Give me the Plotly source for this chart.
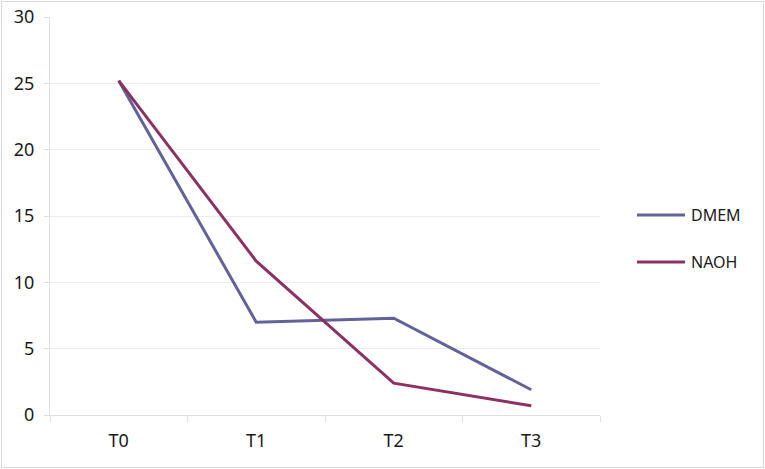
import plotly.graph_objects as go

categories = ["T0", "T1", "T2", "T3"]
series_names = ["DMEM", "NAOH"]
dmem = [25.2, 7.0, 7.3, 1.9]
naoh = [25.2, 11.6, 2.4, 0.7]
y_ticks = [0, 5, 10, 15, 20, 25, 30]
colors = ["#62629a", "#8c3163"]

W, H = 765, 469
L, R, T, B = 50, 165, 17, 54
pw = W - L - R
ph = H - T - B


def px_x(x):
    return (x - L) / pw


def px_y(y):
    return 1 - (y - T) / ph


fig = go.Figure()
for name, vals, c in zip(series_names, [dmem, naoh], colors):
    fig.add_trace(go.Scatter(x=categories, y=vals, name=name, mode="lines",
                             line=dict(color=c, width=3), showlegend=False))

font = dict(family="Noto Sans, Liberation Sans, sans-serif", size=18, color="#1a1a1a")

fig.update_layout(
    width=W, height=H,
    margin=dict(l=L, r=R, t=T, b=B, autoexpand=False),
    paper_bgcolor="white", plot_bgcolor="white",
    font=font,
    showlegend=False,
    xaxis=dict(type="category", range=[-0.5, 3.5], tickson="boundaries",
               ticks="outside", ticklen=6, tickcolor="#e0e0e0",
               showline=True, linecolor="#e0e0e0", linewidth=1, automargin=False,
               showgrid=False, ticklabelstandoff=9, tickfont=dict(size=18)),
    yaxis=dict(range=[0, 30], tickvals=y_ticks, ticks="outside", ticklen=5,
               tickcolor="#e0e0e0", showline=True, linecolor="#e0e0e0",
               gridcolor="#ececec", gridwidth=1, zeroline=False, automargin=False,
               ticklabelstandoff=6, tickfont=dict(size=18)),
)

# chart-area border
fig.add_shape(type="rect", xref="paper", yref="paper",
              x0=px_x(1.5), x1=px_x(W - 1.5), y0=px_y(H - 1.5), y1=px_y(1.5),
              line=dict(color="#d9d9d9", width=1), fillcolor="rgba(0,0,0,0)", layer="below")

# legend (drawn manually to match long legend keys)
leg_y = [215, 262]
for name, c, yy in zip(series_names, colors, leg_y):
    fig.add_shape(type="line", xref="paper", yref="paper",
                  x0=px_x(637), x1=px_x(685), y0=px_y(yy), y1=px_y(yy),
                  line=dict(color=c, width=3))
    fig.add_annotation(xref="paper", yref="paper", x=px_x(689), y=px_y(yy),
                       text=name, showarrow=False, xanchor="left", yanchor="middle",
                       font=dict(size=16, color="#1a1a1a"))

fig.write_html("out.html", config={"displayModeBar": False},
               post_script="document.body.style.margin='0';")
